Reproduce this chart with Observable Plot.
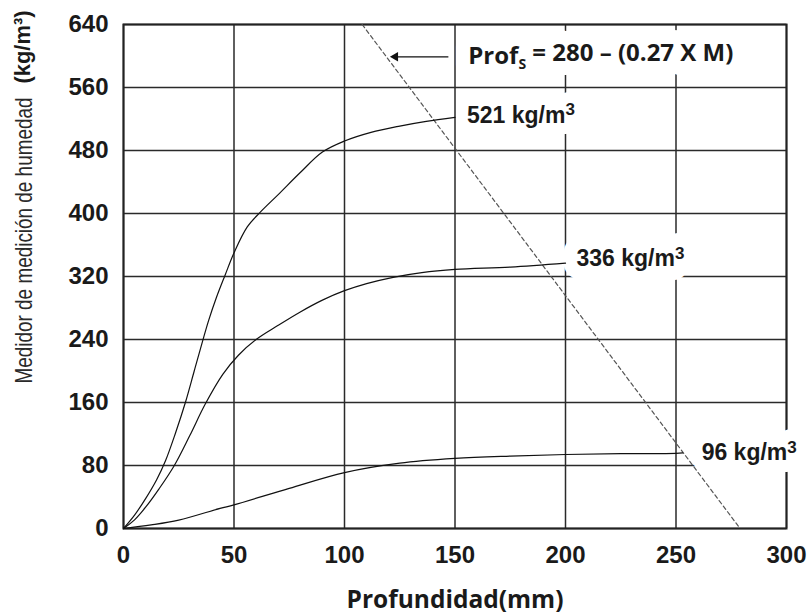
<!DOCTYPE html>
<html><head><meta charset="utf-8">
<script src="https://cdn.jsdelivr.net/npm/d3@7"></script>
<script src="https://cdn.jsdelivr.net/npm/@observablehq/plot@0.6"></script>
<style>body{margin:0;background:#fff} #chart{width:811px;height:616px}</style>
</head><body><div id="chart"></div>
<script>
// Axis ticks
const xTicks = [0, 50, 100, 150, 200, 250, 300];
const yTicks = [0, 80, 160, 240, 320, 400, 480, 560, 640];

// Curve 521 kg/m3
const depth521 = [0, 5, 10, 15, 19, 23.5, 28, 32, 35.6, 38.5, 42, 46, 50, 56, 62, 70, 80, 90, 100, 112, 125, 137, 150];
const m521     = [0, 17, 38, 62, 86, 121, 160, 200, 236, 264, 293, 322, 350, 383, 402, 424, 452, 478, 492, 503, 511, 517, 522];
// Curve 336 kg/m3
const depth336 = [0, 5, 10, 16, 23, 30, 37, 45, 52, 60, 70, 80, 90, 100, 110, 122, 135, 150, 175, 200];
const m336     = [0, 11, 27, 50, 80, 118, 158, 196, 220, 240, 258, 275, 290, 302, 311, 319, 325, 329, 332, 337];
// Curve 96 kg/m3
const depth96 = [0, 12.5, 25, 43.7, 50, 75, 100, 125, 150, 175, 200, 225, 250, 253];
const m96     = [0, 4.5, 10.6, 25.5, 30, 51, 71, 83, 89, 92, 94, 95, 95.5, 96];

const curveLabels = ["521 kg/m³", "336 kg/m³", "96 kg/m³"];

// Dashed limit line Prof_S = 280 - 0.27 M
const limitDepth = [108, 279];
const limitM = [640, 0];
const formulaText = "Prof_S = 280 – (0.27 X M)";
const arrowDepth = [147, 123];
const arrowM = [599, 599];

const xTitle = "Profundidad(mm)";
const yTitleMain = "Medidor de medición de humedad";
const yTitleUnit = "(kg/m³)";

const series = [
  {depth: depth521, m: m521, label: curveLabels[0]},
  {depth: depth336, m: m336, label: curveLabels[1]},
  {depth: depth96, m: m96, label: curveLabels[2]}
];
const rows = series.flatMap(s => s.depth.map((d, i) => ({depth: d, m: s.m[i], label: s.label})));
const ends = series.map(s => ({depth: s.depth[s.depth.length - 1], m: s.m[s.m.length - 1], label: s.label}));
const limitRows = limitDepth.map((d, i) => ({depth: d, m: limitM[i]}));
const arrowRow = [{x1: arrowDepth[0], x2: arrowDepth[1], y: arrowM[0]}];
const formulaRow = [{depth: 156, m: 599, t: formulaText}];
const ink = "#1a1a1a";
const sans = "Liberation Sans, Arial, sans-serif";
const labelBase = {x: "depth", y: "m", text: "label", fontFamily: sans, fontSize: 23, fontWeight: "bold", textAnchor: "start"};
const labelOffsets = [{dx: 12, dy: -2}, {dx: 11, dy: -4}, {dx: 19, dy: 0}];
const haloWidths = [22, 28, 24];
const formulaStyle = {x: "depth", y: "m", text: "t", textAnchor: "start", fontFamily: "Open Sans, sans-serif", fontSize: 24, fontWeight: "bold"};

const halos = ends.map((e, i) => Plot.text([e], {...labelBase, ...labelOffsets[i], fill: "white", stroke: "white", strokeWidth: haloWidths[i]}));
const labelTexts = ends.map((e, i) => Plot.text([e], {...labelBase, ...labelOffsets[i], fill: ink}));

const plot = Plot.plot({
  width: 811, height: 616,
  marginLeft: 123, marginRight: 25, marginTop: 24, marginBottom: 88,
  style: {fontFamily: sans, fontSize: "24px", fontWeight: "bold", color: ink, background: "white"},
  x: {domain: [0, 300]},
  y: {domain: [0, 640]},
  marks: [
    Plot.gridX(xTicks, {stroke: "#2a2a2a", strokeOpacity: 1, strokeWidth: 1.5}),
    Plot.gridY(yTicks, {stroke: "#2a2a2a", strokeOpacity: 1, strokeWidth: 1.5}),
    Plot.frame({stroke: "#222", strokeWidth: 2}),
    ...halos,
    Plot.text(formulaRow, {...formulaStyle, fill: "white", stroke: "white", strokeWidth: 28}),
    Plot.axisX(xTicks, {tickSize: 0, tickPadding: 17, label: null, fontSize: 24, fontWeight: "bold", fill: ink}),
    Plot.axisY(yTicks, {tickSize: 0, tickPadding: 15, label: null, fontSize: 24, fontWeight: "bold", fill: ink}),
    Plot.line(limitRows, {x: "depth", y: "m", stroke: "#555", strokeWidth: 1.2, strokeDasharray: "4,3"}),
    Plot.line(rows, {x: "depth", y: "m", z: "label", stroke: "#111", strokeWidth: 1.2, curve: "catmull-rom"}),
    Plot.link(arrowRow, {x1: "x1", x2: "x2", y1: "y", y2: "y", stroke: "#111", strokeWidth: 1.2}),
    Plot.dot(arrowRow, {x: "x2", y: "y", symbol: "triangle2", r: 4.5, fill: "#111", rotate: -90}),
    ...labelTexts,
    Plot.text(formulaRow, {...formulaStyle, fill: ink}),
    Plot.text([xTitle], {frameAnchor: "bottom", dy: 79, fontFamily: "Open Sans, sans-serif", fontSize: 24.5, fontWeight: "bold", fill: ink}),
    Plot.text([yTitleUnit], {frameAnchor: "top-left", rotate: -90, textAnchor: "end", dx: -109, dy: -14, fontFamily: sans, fontSize: 22, fontWeight: "bold", fill: ink}),
    Plot.text([yTitleMain], {frameAnchor: "top-left", rotate: -90, textAnchor: "end", dx: -109, dy: 73, fontFamily: sans, fontSize: 24, fontWeight: "normal", fill: "#2a2a2a"})
  ]
});
document.getElementById("chart").appendChild(plot);

const texts = d3.select(plot).selectAll("text");
// Subscript S in the formula label
texts.filter(function() { return this.textContent === formulaText; })
  .each(function() {
    const t = d3.select(this);
    t.text(null);
    t.append("tspan").text("Prof");
    t.append("tspan").attr("font-size", "14px").attr("dy", "0.3em").text("S");
    t.append("tspan").attr("dy", "-0.3em").text(" = 280 – (0.27 X M)");
  });
// Raised "3" in the curve labels
texts.filter(function() { return curveLabels.includes(this.textContent); })
  .each(function() {
    const t = d3.select(this);
    const s = this.textContent;
    t.text(null);
    t.append("tspan").text(s.slice(0, -1));
    t.append("tspan").attr("font-size", "17px").attr("dy", "-0.45em").text("3");
  });
// Condensed axis title lengths
texts.filter(function() { return this.textContent === yTitleMain; })
  .attr("textLength", 286).attr("lengthAdjust", "spacingAndGlyphs");
texts.filter(function() { return this.textContent === yTitleUnit; })
  .attr("textLength", 73).attr("lengthAdjust", "spacingAndGlyphs");
</script>
</body></html>
